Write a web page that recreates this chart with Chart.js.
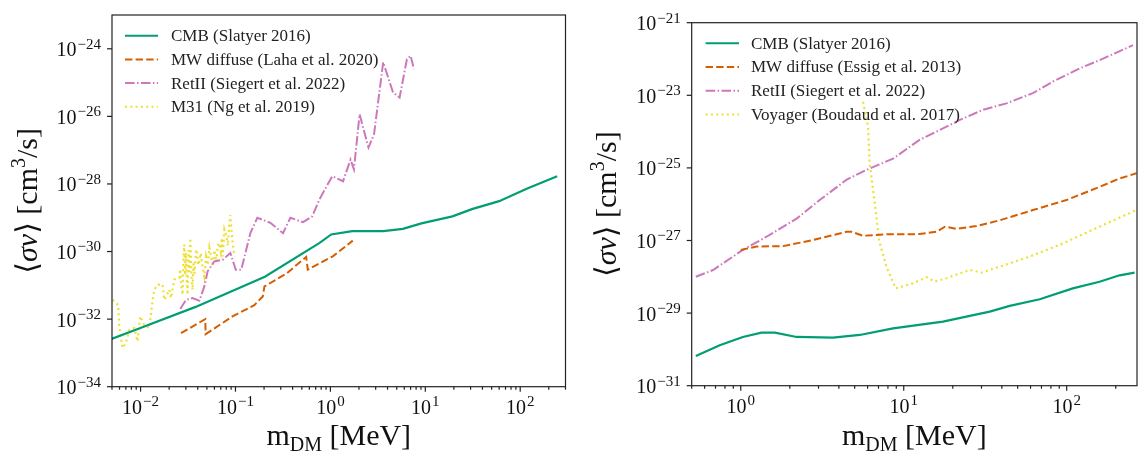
<!DOCTYPE html>
<html>
<head>
<meta charset="utf-8">
<script src="https://cdn.jsdelivr.net/npm/chart.js@4"></script>
<style>
  html, body { margin: 0; padding: 0; background: #fff; }
  #wrap { position: relative; width: 1138px; height: 451px; }
  canvas { position: absolute; top: 0; }
</style>
</head>
<body>
<div id="wrap">
  <canvas id="leftChart" width="570" height="451" style="left:0"></canvas>
  <canvas id="rightChart" width="568" height="451" style="left:570px"></canvas>
</div>
<script>
// ---- left panel (m_DM in MeV, <sigma v> in cm^3/s) ----
const cmbLeftMass = [4.95e-3, 9.8e-3, 0.038, 0.204, 0.77, 1.02, 1.7, 3.6, 5.8, 9.1, 19.3, 31, 60, 117, 245];
const cmbLeftSigma = [2.6e-33, 5.4e-33, 2.3e-32, 1.8e-31, 1.8e-30, 3.2e-30, 4.0e-30, 4.0e-30, 4.7e-30, 6.8e-30, 1.1e-29, 1.8e-29, 3.1e-29, 7.2e-29, 1.7e-28];

const lahaMass = [0.0267, 0.048, 0.0485, 0.093, 0.158, 0.194, 0.202, 0.342, 0.556, 0.578, 1.06, 1.72];
const lahaSigma = [3.85e-33, 1.0e-32, 3.6e-33, 1.2e-32, 2.6e-32, 4.7e-32, 9.3e-32, 2.2e-31, 6.9e-31, 2.9e-31, 7.2e-31, 2.1e-30];

const retLeftMass = [0.0262, 0.0301, 0.0353, 0.0416, 0.047, 0.0509, 0.0598, 0.0733, 0.0883, 0.1007, 0.115, 0.1435, 0.170, 0.233, 0.317, 0.379, 0.515, 0.643, 0.767, 1.045, 1.36, 1.63, 1.77, 2.03, 2.52, 2.88, 3.6, 4.57, 5.36, 6.4, 7.0, 7.6];
const retLeftSigma = [2.0e-32, 3.7e-32, 4.2e-32, 3.5e-32, 9.3e-32, 2.6e-31, 5.1e-31, 5.7e-31, 9.1e-31, 2.9e-31, 2.9e-31, 3.5e-30, 1.0e-29, 7.1e-30, 3.5e-30, 1.0e-29, 7.4e-30, 1.1e-29, 3.5e-29, 1.7e-28, 1.2e-28, 5.3e-28, 2.7e-28, 1.15e-26, 1.2e-27, 2.9e-27, 4.0e-25, 5.1e-26, 3.6e-26, 4.9e-25, 6.2e-25, 2.5e-25];

const m31Mass = [5.07e-3, 5.82e-3, 5.96e-3, 6.46e-3, 7.0e-3, 7.6e-3, 8.6e-3, 9.3e-3, 9.9e-3, 0.0109, 0.01236, 0.0134, 0.01396, 0.0151, 0.01706, 0.0178, 0.0201, 0.0209, 0.0227,
  0.0256, 0.0262, 0.0268, 0.0277, 0.0283, 0.0289, 0.0295, 0.0301, 0.0307, 0.0313, 0.032, 0.0327, 0.0334, 0.034, 0.0346, 0.0353, 0.0362, 0.037, 0.0384, 0.0395, 0.0405, 0.0416,
  0.043, 0.045, 0.047, 0.049, 0.051, 0.0531, 0.055, 0.0575, 0.06, 0.063, 0.065, 0.0676, 0.07, 0.072, 0.0733, 0.0764, 0.08, 0.083, 0.086, 0.0883, 0.091, 0.0933, 0.0973];
const m31Sigma = [3.7e-32, 2.6e-32, 6.0e-33, 1.4e-33, 1.95e-33, 4.8e-33, 5.4e-33, 2.2e-33, 1.2e-32, 6.8e-33, 5.4e-33, 3.7e-32, 7.4e-32, 1.05e-31, 1.05e-31, 3.7e-32, 7.4e-32, 4.2e-32, 1.5e-31,
  1.65e-31, 3e-31, 1e-31, 5.3e-32, 6e-31, 1.6e-30, 2e-31, 9e-31, 1.5e-31, 5.3e-32, 1.1e-30, 2.5e-31, 2.5e-30, 6e-31, 1.5e-31, 7.4e-32, 5e-31, 2.2e-31, 1.15e-30, 9e-31, 4e-31, 5.1e-31,
  9e-31, 3.5e-31, 1.8e-31, 7e-31, 4e-31, 1.3e-30, 8e-31, 3.6e-31, 1.1e-30, 5e-31, 1.5e-30, 1.8e-30, 1e-30, 2.5e-30, 7.2e-31, 4.5e-30, 3e-30, 1.5e-30, 6e-30, 1.2e-29, 4e-30, 1.8e-30, 7.2e-31];

// ---- right panel ----
const cmbRightMass = [0.53, 0.743, 1.03, 1.34, 1.62, 2.2, 3.68, 5.37, 8.6, 17.4, 33.7, 44.7, 68.3, 109, 159, 211, 261];
const cmbRightSigma = [6.6e-31, 1.3e-30, 2.2e-30, 2.9e-30, 2.9e-30, 2.2e-30, 2.1e-30, 2.5e-30, 3.8e-30, 5.8e-30, 1.1e-29, 1.58e-29, 2.4e-29, 4.8e-29, 7.3e-29, 1.1e-28, 1.3e-28];

const essigMass = [1.0, 1.25, 1.82, 2.78, 4.45, 4.78, 5.62, 7.83, 12.5, 15.9, 17.9, 21.1, 27.9, 38.8, 62.1, 99.6, 159, 211, 268];
const essigSigma = [5.5e-28, 6.8e-28, 7.0e-28, 1.03e-27, 1.74e-27, 1.74e-27, 1.35e-27, 1.48e-27, 1.5e-27, 1.74e-27, 2.4e-27, 2.1e-27, 2.5e-27, 3.6e-27, 6.9e-27, 1.3e-26, 3.0e-26, 5.1e-26, 7.1e-26];

const retRightMass = [0.53, 0.676, 1.03, 1.44, 2.2, 3.05, 4.45, 5.9, 8.6, 12.5, 15.1, 22.1, 30.7, 42.7, 62.1, 82.4, 120, 159, 255];
const retRightSigma = [1.0e-28, 1.54e-28, 5.5e-28, 1.27e-27, 4.0e-27, 1.3e-26, 4.7e-26, 8.8e-26, 1.8e-25, 5.9e-25, 8.9e-25, 2.1e-24, 4.0e-24, 6.0e-24, 1.15e-23, 2.4e-23, 5.5e-23, 9.3e-23, 2.4e-22];

const voyagerMass = [5.63, 6.04, 6.18, 6.8, 7.05, 7.83, 8.93, 11.4, 13.8, 15.5, 18.3, 25.4, 30, 38.8, 59.3, 94.9, 152, 268];
const voyagerSigma = [6.6e-24, 1.35e-24, 1.35e-25, 4.5e-27, 1.03e-27, 1.9e-28, 4.8e-29, 6.6e-29, 9.7e-29, 7.4e-29, 9.1e-29, 1.55e-28, 1.3e-28, 1.9e-28, 3.6e-28, 8.3e-28, 2.2e-27, 6.9e-27];

const leftYTicks = [-34, -32, -30, -28, -26, -24];
const rightYTicks = [-31, -29, -27, -25, -23, -21];
const leftXTicks = [-2, -1, 0, 1, 2];
const rightXTicks = [0, 1, 2];

const GREEN = "#029e73", ORANGE = "#d55e00", PINK = "#cc78bc", YELLOW = "#ece133";
const SERIF = '"Liberation Serif", "DejaVu Serif", serif';

function fontOf(p) {
  return (p.it ? "italic " : "") + p.s + "px " + SERIF;
}

// draw a run of text pieces (for sub/superscripts), left/center/right aligned
function drawPieces(ctx, pieces, x, y, align) {
  ctx.textAlign = "left";
  ctx.textBaseline = "alphabetic";
  let total = 0;
  const widths = pieces.map(p => {
    ctx.font = fontOf(p);
    const w = ctx.measureText(p.t).width + (p.gap || 0);
    total += w;
    return w;
  });
  let cx = align === "center" ? x - total / 2 : align === "right" ? x - total : x;
  pieces.forEach((p, i) => {
    ctx.font = fontOf(p);
    ctx.fillText(p.t, cx + (p.gap || 0), y + (p.dy || 0));
    cx += widths[i];
  });
}

function powLabel(e) {
  return [
    { t: "10", s: 20 },
    { t: (e < 0 ? "\u2212" : "") + Math.abs(e), s: 15, dy: -7.5, gap: 1 },
  ];
}

const decor = {
  id: "decor",
  afterDraw(chart, args, opts) {
    const ctx = chart.ctx;
    const { left, right, top, bottom } = chart.chartArea;
    const xs = chart.scales.x, ys = chart.scales.y;
    ctx.save();
    ctx.fillStyle = "#111";
    ctx.strokeStyle = "#222";
    ctx.lineWidth = 1.2;
    ctx.setLineDash([]);
    ctx.strokeRect(left, top, right - left, bottom - top);

    // x ticks, major + minor
    for (let d = Math.floor(Math.log10(xs.min)); d <= Math.ceil(Math.log10(xs.max)); d++) {
      for (let m = 1; m <= 9; m++) {
        const v = m * Math.pow(10, d);
        if (v < xs.min * 0.999 || v > xs.max * 1.001) continue;
        const px = xs.getPixelForValue(v);
        ctx.beginPath();
        ctx.moveTo(px, bottom);
        ctx.lineTo(px, bottom + (m === 1 ? 5 : 3));
        ctx.stroke();
        if (m === 1 && opts.xTicks.includes(d)) {
          drawPieces(ctx, powLabel(d), px, bottom + 27, "center");
        }
      }
    }
    // y ticks
    opts.yTicks.forEach(e => {
      const py = ys.getPixelForValue(Math.pow(10, e));
      ctx.beginPath();
      ctx.moveTo(left - 5, py);
      ctx.lineTo(left, py);
      ctx.stroke();
      drawPieces(ctx, powLabel(e), left - 11, py + 7.4, "right");
    });

    // axis titles
    ctx.fillStyle = "#111";
    drawPieces(ctx, [
      { t: "m", s: 30 },
      { t: "DM", s: 20, dy: 6 },
      { t: " [MeV]", s: 30 },
    ], (left + right) / 2, 445, "center");

    ctx.save();
    ctx.translate(opts.yTitleX, (top + bottom) / 2);
    ctx.rotate(-Math.PI / 2);
    drawPieces(ctx, [
      { t: "\u27e8", s: 30 },
      { t: "\u03c3v", s: 30, it: true },
      { t: "\u27e9 [cm", s: 30 },
      { t: "3", s: 20, dy: -12 },
      { t: "/s]", s: 30 },
    ], 0, 8, "center");
    ctx.restore();

    // legend
    chart.data.datasets.forEach((ds, i) => {
      const y = opts.legend.y + i * 23.7;
      ctx.strokeStyle = ds.borderColor;
      ctx.lineWidth = 2;
      ctx.setLineDash(ds.borderDash || []);
      ctx.beginPath();
      ctx.moveTo(opts.legend.x0, y);
      ctx.lineTo(opts.legend.x1, y);
      ctx.stroke();
      ctx.setLineDash([]);
      ctx.fillStyle = "#222";
      ctx.font = "17px " + SERIF;
      ctx.textAlign = "left";
      ctx.textBaseline = "middle";
      ctx.fillText(ds.label, opts.legend.tx, y + 1);
    });
    ctx.restore();
  },
};

function series(label, xs, ys, color, dash, width) {
  return {
    label,
    data: xs.map((x, i) => ({ x, y: ys[i] })),
    borderColor: color,
    borderDash: dash,
    borderWidth: width || 2,
    pointRadius: 0,
    tension: 0,
    fill: false,
  };
}

function makeChart(id, datasets, xMin, xMax, yMin, yMax, padding, decorOpts) {
  return new Chart(document.getElementById(id), {
    type: "line",
    data: { datasets },
    options: {
      responsive: false,
      animation: false,
      events: [],
      layout: { padding },
      scales: {
        x: { type: "logarithmic", min: xMin, max: xMax, bounds: "data", display: false },
        y: { type: "logarithmic", min: yMin, max: yMax, bounds: "data", display: false },
      },
      plugins: {
        legend: { display: false },
        tooltip: { enabled: false },
        decor: decorOpts,
      },
    },
    plugins: [decor],
  });
}

makeChart("leftChart", [
  series("CMB (Slatyer 2016)", cmbLeftMass, cmbLeftSigma, GREEN, [], 2.2),
  series("MW diffuse (Laha et al. 2020)", lahaMass, lahaSigma, ORANGE, [7.4, 3.2]),
  series("RetII (Siegert et al. 2022)", retLeftMass, retLeftSigma, PINK, [9.6, 2.4, 1.5, 2.4]),
  series("M31 (Ng et al. 2019)", m31Mass, m31Sigma, YELLOW, [2, 3.3], 2.2),
], 5e-3, 300, 1e-34, 1e-23,
  { left: 112, top: 15, right: 4.5, bottom: 64.3 },
  { xTicks: leftXTicks, yTicks: leftYTicks, yTitleX: 29,
    legend: { x0: 125, x1: 158, tx: 171, y: 35.7 } });

makeChart("rightChart", [
  series("CMB (Slatyer 2016)", cmbRightMass, cmbRightSigma, GREEN, [], 2.2),
  series("MW diffuse (Essig et al. 2013)", essigMass, essigSigma, ORANGE, [7.4, 3.2]),
  series("RetII (Siegert et al. 2022)", retRightMass, retRightSigma, PINK, [9.6, 2.4, 1.5, 2.4]),
  series("Voyager (Boudaud et al. 2017)", voyagerMass, voyagerSigma, YELLOW, [2, 3.3], 2.2),
], 0.5, 270, 1e-31, 1e-21,
  { left: 121.7, top: 22.7, right: 1, bottom: 65.3 },
  { xTicks: rightXTicks, yTicks: rightYTicks, yTitleX: 38,
    legend: { x0: 135.6, x1: 169, tx: 181, y: 43.3 } });
</script>
</body>
</html>
